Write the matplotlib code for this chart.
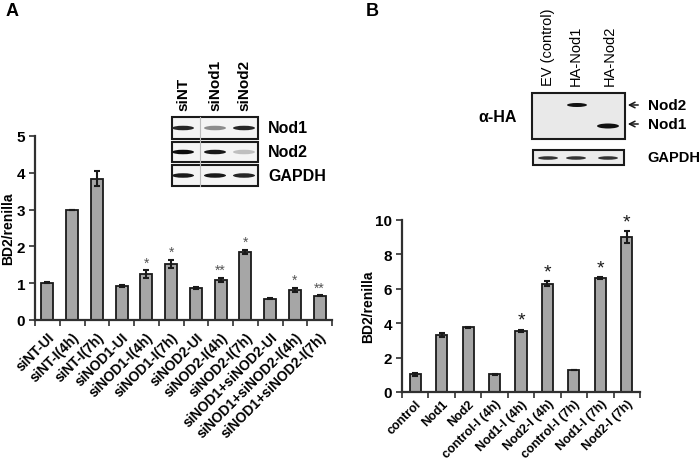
import matplotlib
matplotlib.use("Agg")
import matplotlib.pyplot as plt
from matplotlib.patches import Rectangle, Ellipse

plt.rcParams['font.family'] = ['Liberation Sans', 'DejaVu Sans']
plt.rcParams['font.weight'] = 'bold'

# ---- Data panel A ----
a_labels = ["siNT-UI", "siNT-I(4h)", "siNT-I(7h)", "siNOD1-UI", "siNOD1-I(4h)",
            "siNOD1-I(7h)", "siNOD2-UI", "siNOD2-I(4h)", "siNOD2-I(7h)",
            "siNOD1+siNOD2-UI", "siNOD1+siNOD2-I(4h)", "siNOD1+siNOD2-I(7h)"]
a_values = [1.01, 2.99, 3.84, 0.92, 1.25, 1.53, 0.86, 1.09, 1.85, 0.58, 0.81, 0.66]
a_errors = [0.01, 0.01, 0.21, 0.02, 0.10, 0.11, 0.03, 0.06, 0.06, 0.02, 0.06, 0.01]
a_stars = ["", "", "", "", "*", "*", "", "**", "*", "", "*", "**"]
a_yticks = [0, 1, 2, 3, 4, 5]

# ---- Data panel B ----
b_labels = ["control", "Nod1", "Nod2", "control-I (4h)", "Nod1-I (4h)",
            "Nod2-I (4h)", "control-I (7h)", "Nod1-I (7h)", "Nod2-I (7h)"]
b_values = [1.02, 3.33, 3.77, 1.02, 3.55, 6.30, 1.26, 6.64, 9.02]
b_errors = [0.07, 0.12, 0.03, 0.03, 0.07, 0.14, 0.0, 0.05, 0.35]
b_stars = ["", "", "", "", "*", "*", "", "*", "*"]
b_yticks = [0, 2, 4, 6, 8, 10]

W, H = 700, 464
fig = plt.figure(figsize=(7, 4.64), dpi=100)

# ---- Overlay for blots and panel letters (drawn first, underneath) ----
ov = fig.add_axes([0, 0, 1, 1])
ov.set_xlim(0, W)
ov.set_ylim(H, 0)
ov.axis('off')

def px_axes(l, t, r, b):
    ax = fig.add_axes([l / W, 1 - b / H, (r - l) / W, (b - t) / H])
    ax.patch.set_alpha(0)
    return ax

bar_color = '#a6a6a6'
spine_color = '#303030'

def style_axes(ax, n, pad):
    for s in ['top', 'right']:
        ax.spines[s].set_visible(False)
    for s in ['left', 'bottom']:
        ax.spines[s].set_linewidth(1.6)
        ax.spines[s].set_color(spine_color)
    ax.set_xlim(-0.5, n - 0.5)
    ax.set_xticks(range(n))
    ax.tick_params(axis='x', which='major', length=0, pad=pad)
    ax.set_xticks([i - 0.5 for i in range(n + 1)], minor=True)
    ax.tick_params(axis='x', which='minor', length=4, width=1.2, color=spine_color, direction='out')
    ax.tick_params(axis='y', length=4, width=1.2, color=spine_color, direction='out',
                   labelsize=11, pad=3)

# Panel A
axA = px_axes(35, 137, 332, 321)
xa = list(range(len(a_values)))
axA.bar(xa, a_values, width=0.48, color=bar_color, edgecolor='#1a1a1a', linewidth=1.3,
        yerr=a_errors, error_kw=dict(ecolor='#1a1a1a', elinewidth=1.5, capsize=2.5, capthick=1.5))
axA.set_ylim(0, 5)
axA.set_yticks(a_yticks)
style_axes(axA, len(a_values), 7)
axA.set_xticklabels(a_labels, rotation=45, ha='right', rotation_mode='anchor',
                    fontsize=10, fontweight='bold')
for lab in axA.get_yticklabels():
    lab.set_fontweight('bold')
axA.set_ylabel("BD2/renilla", fontsize=10, fontweight='bold')
axA.yaxis.set_label_coords((15 - 35) / 297, 0.5)
for i, s in enumerate(a_stars):
    if s:
        axA.text(i, a_values[i] + a_errors[i] + 0.02, s, ha='center', va='bottom',
                 fontsize=10, color='#555555', fontweight='normal')

# Panel B
axB = px_axes(402, 221, 640, 393)
xb = list(range(len(b_values)))
axB.bar(xb, b_values, width=0.42, color=bar_color, edgecolor='#1a1a1a', linewidth=1.3,
        yerr=b_errors, error_kw=dict(ecolor='#1a1a1a', elinewidth=1.5, capsize=2.5, capthick=1.5))
axB.set_ylim(0, 10)
axB.set_yticks(b_yticks)
style_axes(axB, len(b_values), 4)
axB.set_xticklabels(b_labels, rotation=45, ha='right', rotation_mode='anchor',
                    fontsize=9, fontweight='bold')
for lab in axB.get_yticklabels():
    lab.set_fontweight('bold')
axB.set_ylabel("BD2/renilla", fontsize=10, fontweight='bold')
axB.yaxis.set_label_coords((375 - 402) / 238, 0.5)
for i, s in enumerate(b_stars):
    if s:
        axB.text(i, b_values[i] + b_errors[i] + 0.05, s, ha='center', va='bottom',
                 fontsize=14, color='#1a1a1a', fontweight='normal')

ov.text(12, 12, "A", fontsize=13, fontweight='bold', ha='center', va='center')
ov.text(372, 12, "B", fontsize=13, fontweight='bold', ha='center', va='center')

# Blot A
lanesA = [183, 215, 244]
for x, t in zip(lanesA, ["siNT", "siNod1", "siNod2"]):
    ov.text(x, 111, t, rotation=90, ha='center', va='bottom', fontsize=11, fontweight='bold')
boxes = [(118, 140), (143, 163), (166, 187)]
for (t, b), name in zip(boxes, ["Nod1", "Nod2", "GAPDH"]):
    ov.add_patch(Rectangle((172, t), 86, b - t, facecolor='#f4f4f4', edgecolor='#1a1a1a', lw=1.5))
    ov.text(268, (t + b) / 2, name, ha='left', va='center', fontsize=11.5, fontweight='bold')
ov.plot([200, 200], [118, 187], color='#bbbbbb', lw=0.8)
band_int = [[0.85, 0.45, 0.85], [0.95, 0.9, 0.25], [0.9, 0.9, 0.85]]
for (t, b), ints in zip(boxes, band_int):
    yc = (t + b) / 2
    for x, it in zip(lanesA, ints):
        g = 1 - it
        ov.add_patch(Ellipse((x, yc), 22, 4.5, facecolor=(g, g, g), edgecolor='none'))

# Blot B
for x, t in zip([548, 576, 610], ["EV (control)", "HA-Nod1", "HA-Nod2"]):
    ov.text(x, 86, t, rotation=90, ha='center', va='bottom', fontsize=10.5, fontweight='normal')
ov.add_patch(Rectangle((532, 94), 93, 46, facecolor='#e9e9e9', edgecolor='#1a1a1a', lw=1.5))
ov.add_patch(Ellipse((577, 106), 20, 4, facecolor='#111111', edgecolor='none'))
ov.add_patch(Ellipse((608, 127), 22, 5, facecolor='#111111', edgecolor='none'))
ov.add_patch(Rectangle((533, 151), 91, 15, facecolor='#ececec', edgecolor='#1a1a1a', lw=1.5))
for x in [548, 576, 608]:
    ov.add_patch(Ellipse((x, 159), 20, 3.5, facecolor='#333333', edgecolor='none'))
ov.text(498, 118, "α-HA", ha='center', va='center', fontsize=11.5, fontweight='bold')
for y, name in [(106, "Nod2"), (125, "Nod1")]:
    ov.annotate("", xy=(625, y), xytext=(641, y),
                arrowprops=dict(arrowstyle='->', lw=1.1, color='#1a1a1a', mutation_scale=10))
    ov.text(648, y, name, ha='left', va='center', fontsize=11, fontweight='bold')
ov.text(647, 158, "GAPDH", ha='left', va='center', fontsize=10.5, fontweight='bold')

fig.savefig("out.png", dpi=100)
